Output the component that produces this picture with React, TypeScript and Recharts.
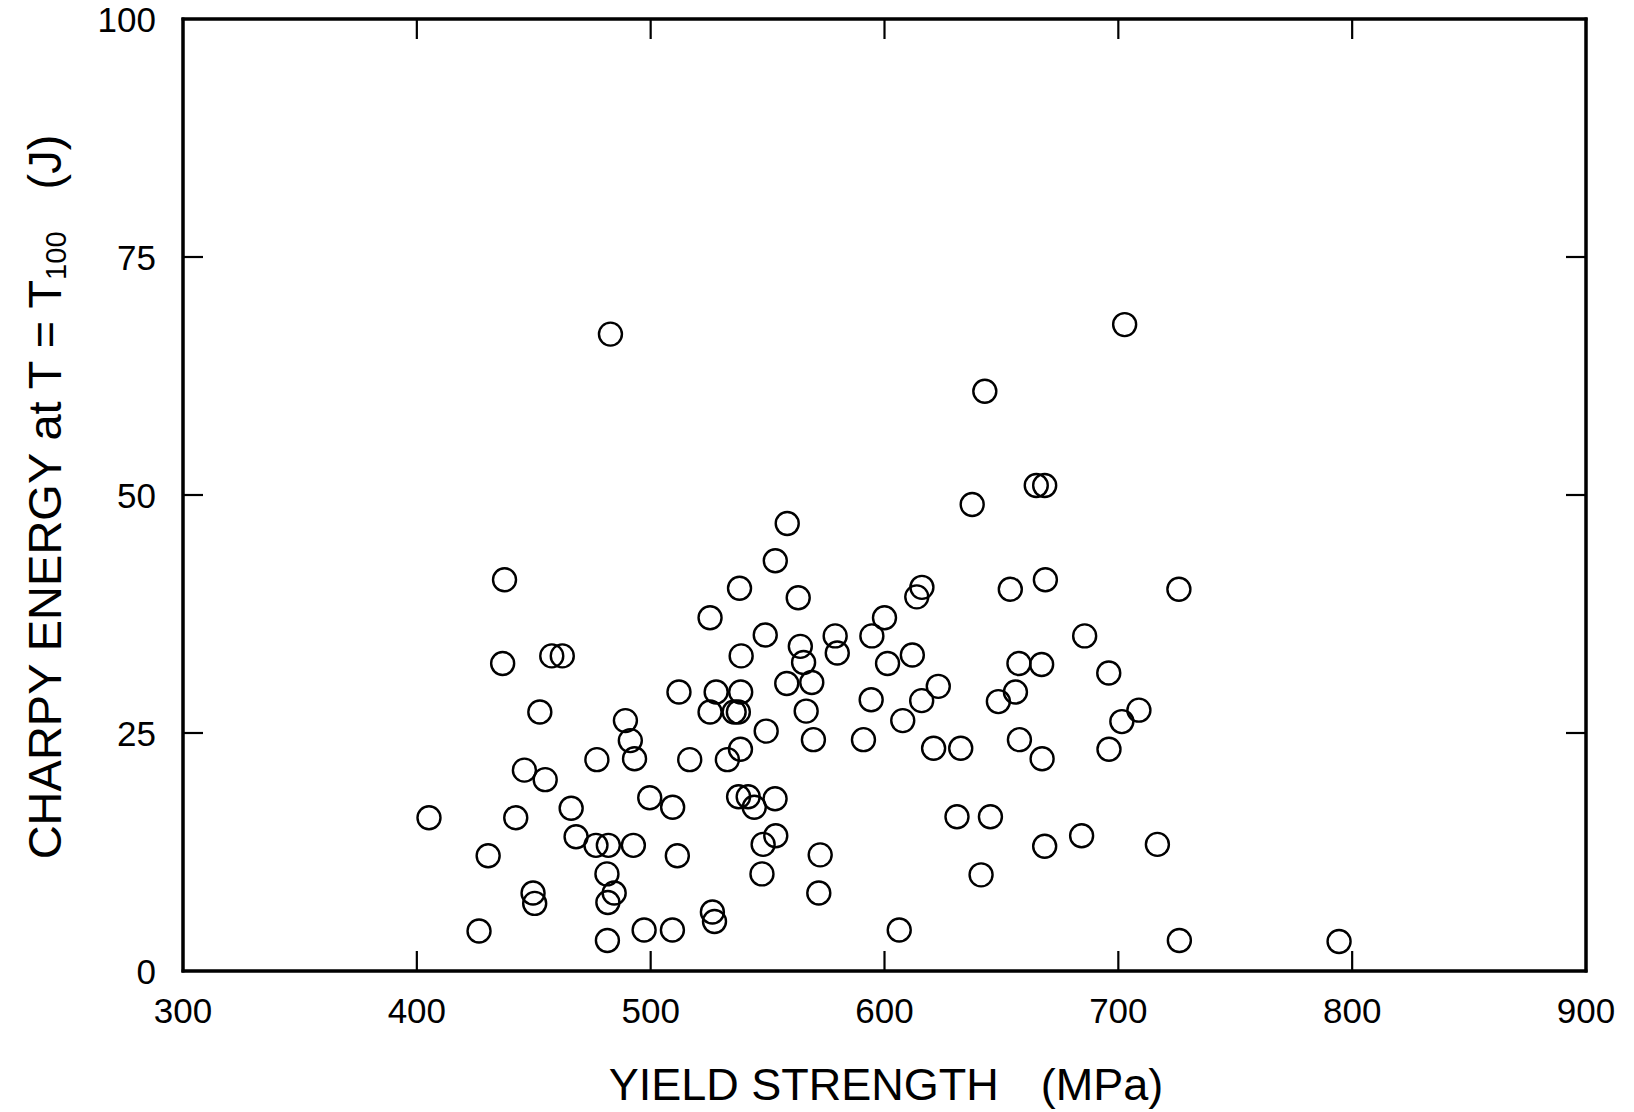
import React from 'react';
import { ScatterChart, Scatter, XAxis, YAxis, ReferenceArea } from 'recharts';

// Yield strength (MPa) of each specimen
const yieldStrength = [
  405.2, 426.6, 430.5, 437.5, 436.7, 442.3, 446, 449.7, 450.4, 452.6,
  454.9, 457.7, 462.2, 466, 468.1, 477, 476.6, 482.8, 481.3, 481.9,
  481.7, 481.5, 484.4, 489.2, 491.3, 493.1, 492.6, 497.2, 499.6, 509.4,
  509.3, 512.1, 511.4, 516.7, 525.4, 525.4, 526.4, 527.3, 528, 532.8,
  535.7, 537.5, 538, 538.5, 538.7, 538.4, 537.6, 541.7, 544.3, 549,
  549.4, 548.1, 547.6, 553.3, 553.2, 553.5, 558.4, 558.2, 563.1, 564,
  565.4, 566.5, 568.9, 569.6, 572.5, 571.9, 578.9, 579.8, 591, 594.3,
  594.6, 600, 601.3, 606.3, 607.8, 611.9, 613.8, 616, 615.9, 623,
  621, 632.6, 631, 637.5, 642.9, 641.3, 645.3, 648.7, 653.8, 656,
  657.5, 657.7, 664.9, 668.5, 668.8, 667.2, 667.4, 668.5, 684.3, 685.6,
  695.9, 696, 701.5, 702.7, 708.8, 716.7, 725.9, 726.1, 794.4,
];

// Charpy energy (J) at T = T100 of each specimen
const charpyEnergy = [
  16.1, 4.2, 12.1, 41.1, 32.3, 16.1, 21.1, 8.2, 7.1, 27.2,
  20.1, 33.1, 33.1, 17.1, 14.1, 22.2, 13.2, 66.9, 10.2, 13.2,
  7.2, 3.2, 8.2, 26.3, 24.2, 22.3, 13.2, 4.3, 18.2, 17.2,
  4.3, 29.3, 12.1, 22.2, 37.1, 27.2, 6.2, 5.2, 29.3, 22.2,
  27.2, 27.2, 40.2, 29.3, 33.1, 23.3, 18.3, 18.3, 17.2, 35.3,
  25.2, 13.3, 10.2, 43.1, 18.1, 14.2, 47, 30.2, 39.2, 34.1,
  32.4, 27.3, 30.3, 24.3, 12.2, 8.2, 35.2, 33.4, 24.3, 28.5,
  35.2, 37.1, 32.3, 4.3, 26.3, 33.2, 39.3, 40.3, 28.4, 29.9,
  23.4, 23.4, 16.2, 49, 60.9, 10.1, 16.2, 28.3, 40.1, 29.3,
  32.3, 24.3, 51, 51, 41.1, 32.2, 22.3, 13.1, 14.2, 35.2,
  31.3, 23.3, 26.2, 67.9, 27.4, 13.3, 40.1, 3.2, 3.1,
];

const xTicks = [300, 400, 500, 600, 700, 800, 900];
const yTicks = [0, 25, 50, 75, 100];
const xDomain = [300, 900];
const yDomain = [0, 100];

const data = yieldStrength.map((x, i) => ({ x, y: charpyEnergy[i] }));

const FONT = '"Liberation Sans", Arial, Helvetica, sans-serif';
const TICK_LEN = 20;
const TICK_W = 2.2;
const FRAME = { stroke: '#000', strokeWidth: 3, strokeLinecap: 'square' as const };

const isInner = (v: number, arr: number[]) => v !== arr[0] && v !== arr[arr.length - 1];

const BottomTick = (props: any) => {
  const { x, y, payload } = props;
  const v = payload.value;
  return (
    <g>
      {isInner(v, xTicks) && (
        <line x1={x} y1={y} x2={x} y2={y - TICK_LEN} stroke="#000" strokeWidth={TICK_W} />
      )}
      <text x={x} y={y + 52} textAnchor="middle" fontSize={35} fontFamily={FONT} fill="#000">
        {v}
      </text>
    </g>
  );
};

const TopTick = (props: any) => {
  const { x, y, payload } = props;
  const v = payload.value;
  if (!isInner(v, xTicks)) return <g />;
  return <line x1={x} y1={y} x2={x} y2={y + TICK_LEN} stroke="#000" strokeWidth={TICK_W} />;
};

const LeftTick = (props: any) => {
  const { x, y, payload } = props;
  const v = payload.value;
  return (
    <g>
      {isInner(v, yTicks) && (
        <line x1={x} y1={y} x2={x + TICK_LEN} y2={y} stroke="#000" strokeWidth={TICK_W} />
      )}
      <text x={x - 27} y={y + 12.5} textAnchor="end" fontSize={35} fontFamily={FONT} fill="#000">
        {v}
      </text>
    </g>
  );
};

const RightTick = (props: any) => {
  const { x, y, payload } = props;
  const v = payload.value;
  if (!isInner(v, yTicks)) return <g />;
  return <line x1={x} y1={y} x2={x - TICK_LEN} y2={y} stroke="#000" strokeWidth={TICK_W} />;
};

const Ring = (props: any) => {
  const { cx, cy } = props;
  if (cx == null || cy == null) return <g />;
  return <circle cx={cx} cy={cy} r={11.5} fill="none" stroke="#000" strokeWidth={2.4} />;
};

const XTitle = () => (
  <text x={886} y={1100} textAnchor="middle" fontSize={45} fontFamily={FONT} fill="#000">
    <tspan>YIELD STRENGTH</tspan>
    <tspan dx={42}>(MPa)</tspan>
  </text>
);

const YTitle = () => (
  <text
    x={44}
    y={497}
    transform="rotate(-90, 44, 497)"
    textAnchor="middle"
    fontSize={47}
    fontFamily={FONT}
    fill="#000"
    dominantBaseline="central"
  >
    <tspan>CHARPY ENERGY at T = T</tspan>
    <tspan fontSize={29} dy={12}>100</tspan>
    <tspan dx={42} dy={-12}>(J)</tspan>
  </text>
);

export default function App() {
  return (
    <div style={{ position: 'absolute', left: 0, top: 0, width: 1634, height: 1112, background: '#fff' }}>
      <ScatterChart
        width={1634}
        height={1112}
        margin={{ top: 18, right: 47, bottom: 0, left: 0 }}
      >
        <XAxis
          xAxisId="bottom"
          type="number"
          dataKey="x"
          orientation="bottom"
          domain={xDomain}
          ticks={xTicks}
          allowDataOverflow
          height={141}
          tickSize={0}
          tickMargin={0}
          tickLine={false}
          axisLine={FRAME}
          tick={<BottomTick />}
          interval={0}
          label={<XTitle />}
        />
        <XAxis
          xAxisId="top"
          type="number"
          dataKey="x"
          orientation="top"
          domain={xDomain}
          ticks={xTicks}
          allowDataOverflow
          height={1}
          tickSize={0}
          tickMargin={0}
          tickLine={false}
          axisLine={FRAME}
          tick={<TopTick />}
          interval={0}
        />
        <YAxis
          yAxisId="left"
          type="number"
          dataKey="y"
          orientation="left"
          domain={yDomain}
          ticks={yTicks}
          allowDataOverflow
          width={183}
          tickSize={0}
          tickMargin={0}
          tickLine={false}
          axisLine={FRAME}
          tick={<LeftTick />}
          interval={0}
          label={<YTitle />}
        />
        <YAxis
          yAxisId="right"
          type="number"
          dataKey="y"
          orientation="right"
          domain={yDomain}
          ticks={yTicks}
          allowDataOverflow
          width={1}
          tickSize={0}
          tickMargin={0}
          tickLine={false}
          axisLine={FRAME}
          tick={<RightTick />}
          interval={0}
        />
        <ReferenceArea
          xAxisId="bottom"
          yAxisId="left"
          x1={300}
          x2={900}
          y1={0}
          y2={100}
          fill="none"
          fillOpacity={0}
          stroke="#000"
          strokeWidth={3}
          ifOverflow="visible"
        />
        <Scatter
          data={data}
          xAxisId="bottom"
          yAxisId="left"
          shape={<Ring />}
          isAnimationActive={false}
        />
        <Scatter
          data={data}
          xAxisId="top"
          yAxisId="right"
          shape={() => <g />}
          isAnimationActive={false}
        />
      </ScatterChart>
    </div>
  );
}
